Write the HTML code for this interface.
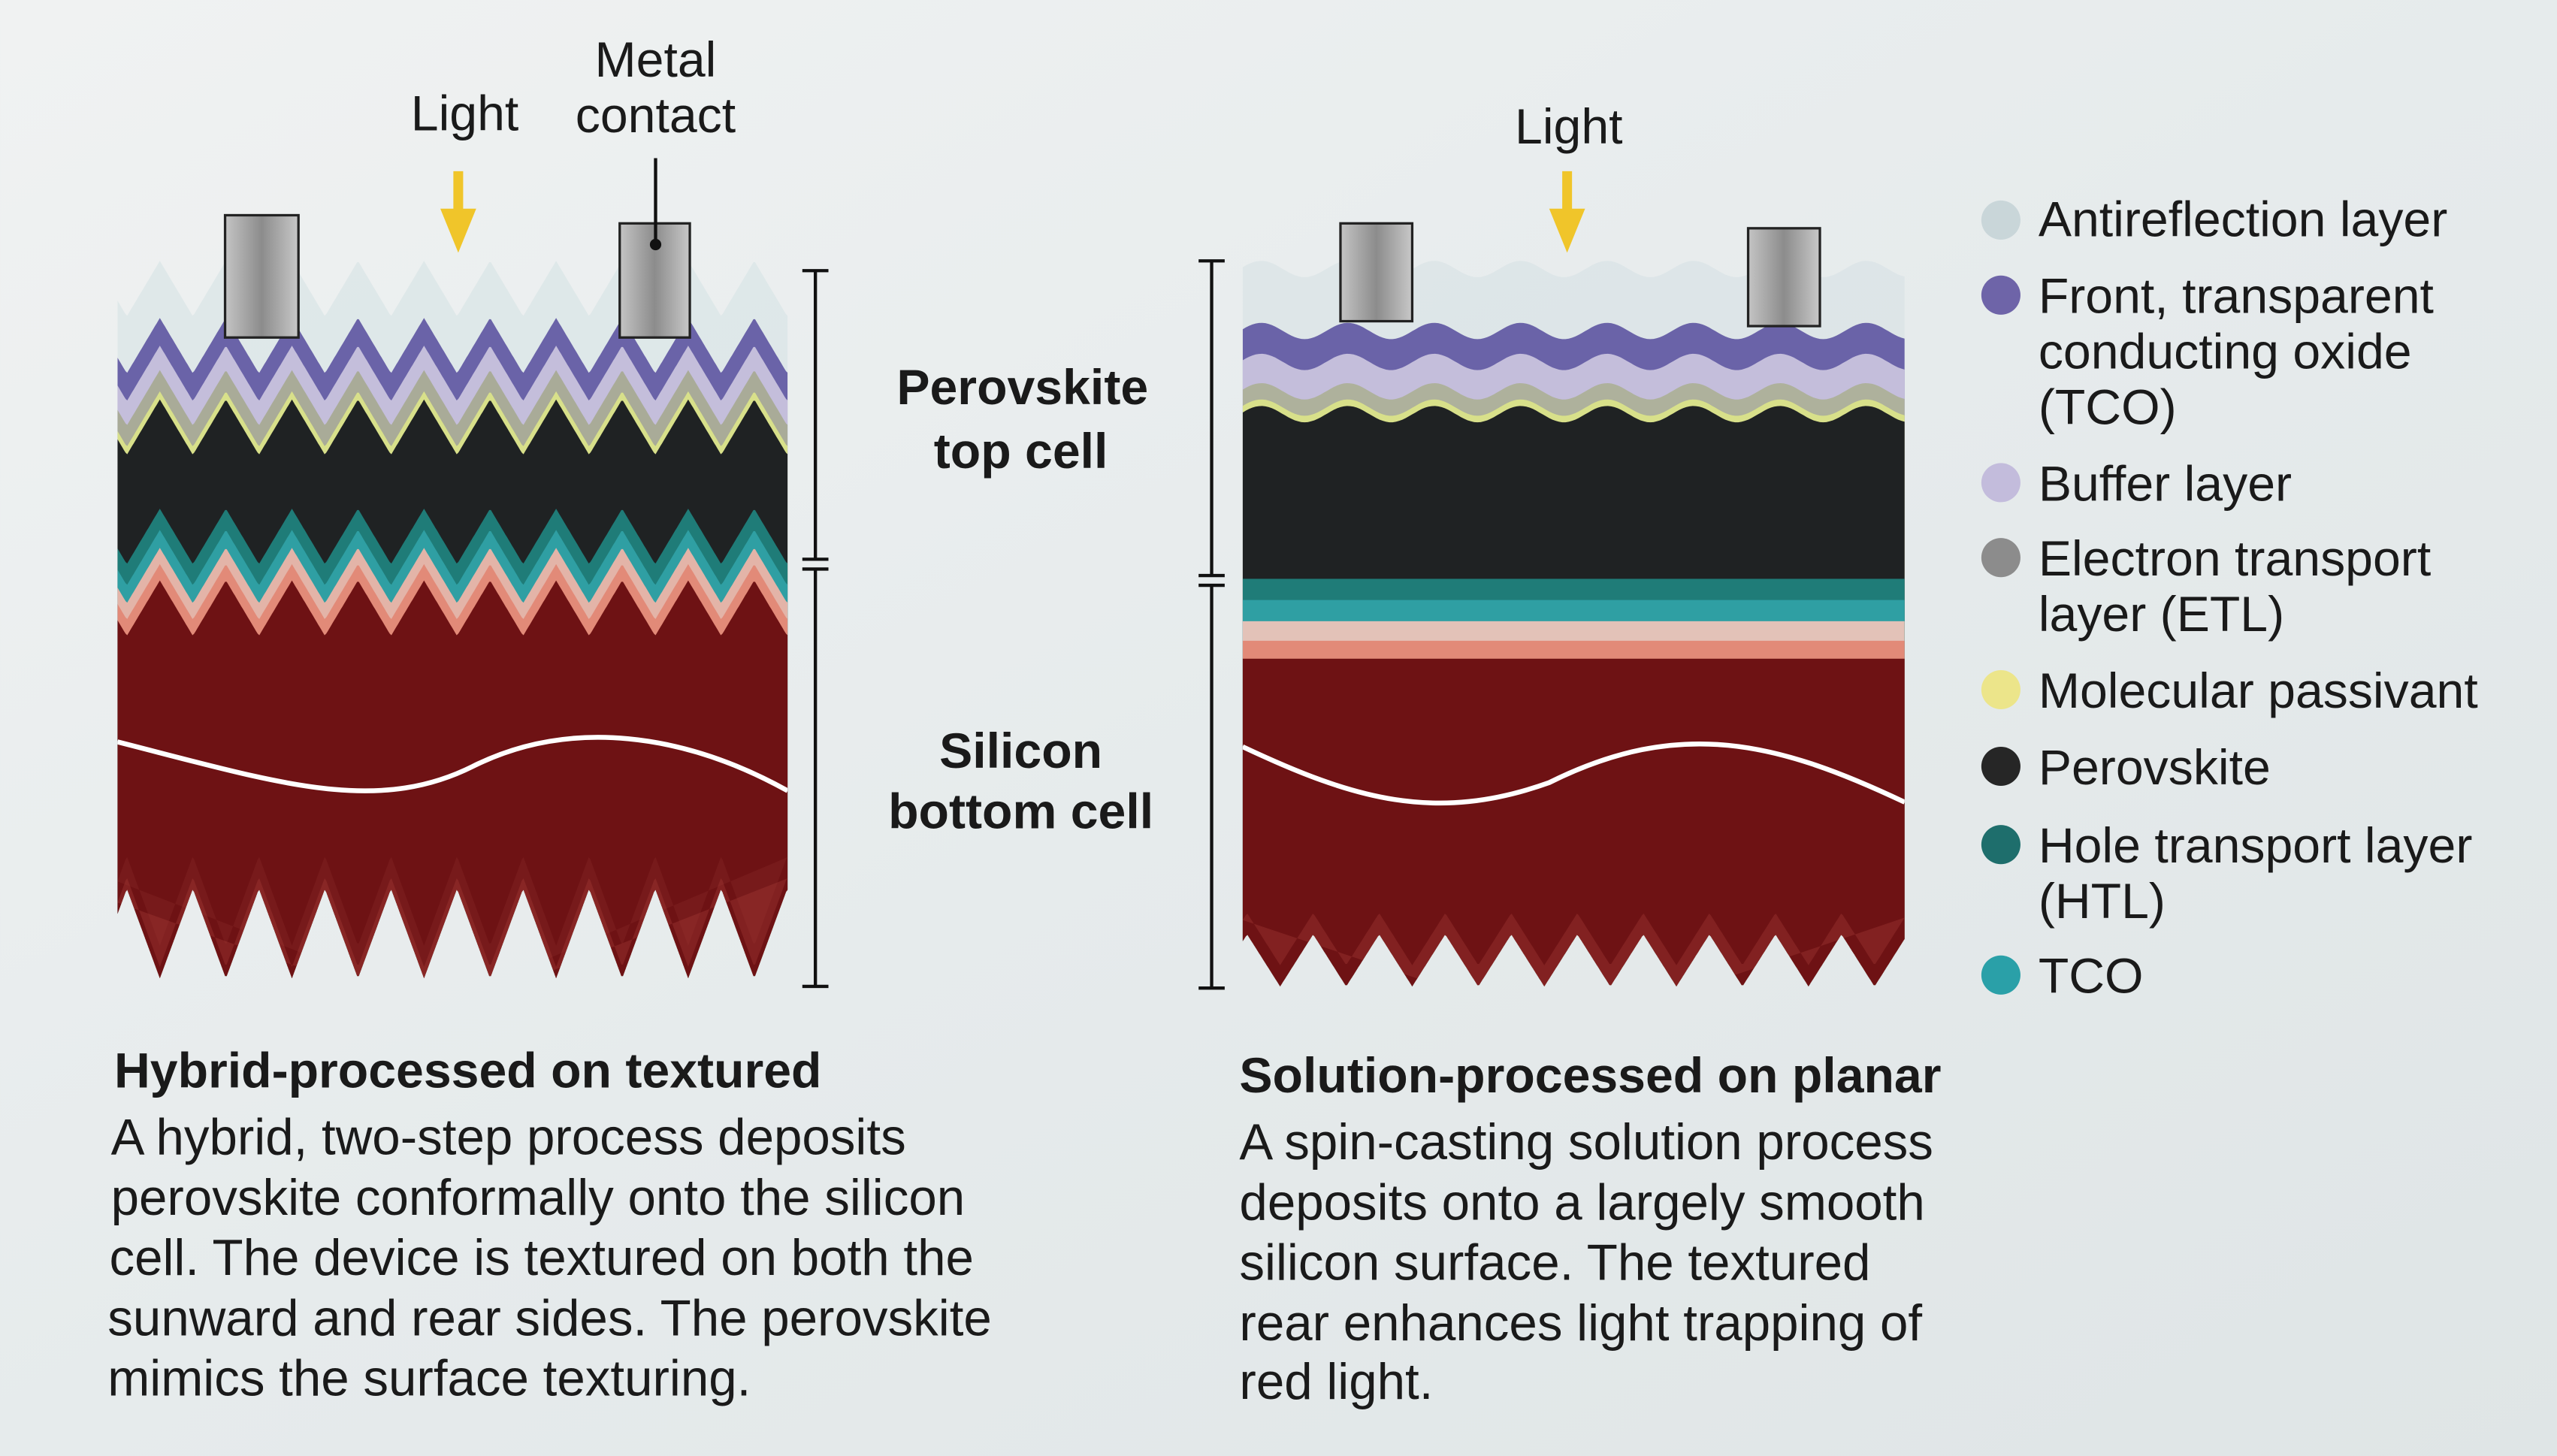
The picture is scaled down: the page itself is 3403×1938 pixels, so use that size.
<!DOCTYPE html>
<html><head><meta charset="utf-8">
<style>
html,body{margin:0;padding:0;width:3403px;height:1938px;overflow:hidden;background:#e6ebec;}
svg{display:block}
text{font-family:"Liberation Sans",Arial,sans-serif;fill:#1a1a1a}
</style></head>
<body>
<svg id="s" width="3403" height="1938" viewBox="0 0 1568 893" xmlns="http://www.w3.org/2000/svg">
<defs>
<linearGradient id="bg" x1="0" y1="0" x2="1" y2="1">
<stop offset="0" stop-color="#f0f2f2"/><stop offset="0.5" stop-color="#e6ebec"/><stop offset="1" stop-color="#dfe5e6"/></linearGradient>
<linearGradient id="metal" x1="0" x2="1">
<stop offset="0" stop-color="#c4c4c4"/><stop offset="0.5" stop-color="#8c8c8c"/><stop offset="1" stop-color="#c8c8c8"/></linearGradient>
<clipPath id="clipL"><path id="cl"/></clipPath>
<clipPath id="clipR"><path id="cr"/></clipPath>
</defs>
<rect width="1568" height="893" fill="url(#bg)"/>
<g id="L"></g>
<g id="R"></g>
<rect x="138" y="132" width="45" height="75" fill="url(#metal)" stroke="#222" stroke-width="1.5"/>
<rect x="380" y="137" width="43" height="70" fill="url(#metal)" stroke="#222" stroke-width="1.5"/>
<rect x="822" y="137" width="44" height="60" fill="url(#metal)" stroke="#222" stroke-width="1.5"/>
<rect x="1072" y="140" width="44" height="60" fill="url(#metal)" stroke="#222" stroke-width="1.5"/>
<line x1="402" y1="97" x2="402" y2="150" stroke="#111" stroke-width="2"/>
<circle cx="402" cy="150" r="3.5" fill="#111"/>
<path d="M278,105 h6 v23 h8 l-11,27 l-11,-27 h8z" fill="#f0c52a"/>
<path d="M958,105 h6 v23 h8 l-11,27 l-11,-27 h8z" fill="#f0c52a"/>
<text x="285" y="80" font-size="30.5" text-anchor="middle">Light</text>
<text x="402" y="47" font-size="30.5" text-anchor="middle">Metal</text>
<text x="402" y="81" font-size="30.5" text-anchor="middle">contact</text>
<text x="962" y="88" font-size="30.5" text-anchor="middle">Light</text>
<g stroke="#111" stroke-width="2" fill="none">
<path d="M492,166 h16 M500,166 V343 M492,343 h16 M492,349 h16 M500,349 V605 M492,605 h16"/>
<path d="M735,160 h16 M743,160 V353 M735,353 h16 M735,359 h16 M743,359 V606 M735,606 h16"/>
</g>
<text x="627" y="248" font-size="30.5" font-weight="bold" text-anchor="middle">Perovskite</text>
<text x="626" y="287" font-size="30.5" font-weight="bold" text-anchor="middle">top cell</text>
<text x="626" y="471" font-size="30.5" font-weight="bold" text-anchor="middle">Silicon</text>
<text x="626" y="508" font-size="30.5" font-weight="bold" text-anchor="middle">bottom cell</text>
<g font-size="30.5">
<circle cx="1227" cy="135" r="12" fill="#c9d6d9"/><text x="1250" y="145">Antireflection layer</text>
<circle cx="1227" cy="181" r="12" fill="#6e64a8"/><text x="1250" y="192">Front, transparent</text><text x="1250" y="226">conducting oxide</text><text x="1250" y="260">(TCO)</text>
<circle cx="1227" cy="296" r="12" fill="#c3bcdc"/><text x="1250" y="307">Buffer layer</text>
<circle cx="1227" cy="342" r="12" fill="#8c8c8c"/><text x="1250" y="353">Electron transport</text><text x="1250" y="387">layer (ETL)</text>
<circle cx="1227" cy="423" r="12" fill="#ece58a"/><text x="1250" y="434">Molecular passivant</text>
<circle cx="1227" cy="470" r="12" fill="#262626"/><text x="1250" y="481">Perovskite</text>
<circle cx="1227" cy="518" r="12" fill="#1e6e6c"/><text x="1250" y="529">Hole transport layer</text><text x="1250" y="563">(HTL)</text>
<circle cx="1227" cy="598" r="12" fill="#2aa0a8"/><text x="1250" y="609">TCO</text>
</g>
<text x="70" y="667" font-size="30.5" font-weight="bold">Hybrid-processed on textured</text>
<g font-size="31">
<text x="68" y="708">A hybrid, two-step process deposits</text>
<text x="68" y="745">perovskite conformally onto the silicon</text>
<text x="67" y="782">cell. The device is textured on both the</text>
<text x="66" y="819">sunward and rear sides. The perovskite</text>
<text x="66" y="856">mimics the surface texturing.</text>
</g>
<text x="760" y="670" font-size="30.5" font-weight="bold">Solution-processed on planar</text>
<g font-size="31">
<text x="760" y="711">A spin-casting solution process</text>
<text x="760" y="748">deposits onto a largely smooth</text>
<text x="760" y="785">silicon surface. The textured</text>
<text x="760" y="822">rear enhances light trapping of</text>
<text x="760" y="858">red light.</text>
</g>
</svg>
<script>
var NS="http://www.w3.org/2000/svg";
function el(p,tag,a){var e=document.createElementNS(NS,tag);for(var k in a)e.setAttribute(k,a[k]);p.appendChild(e);return e;}
var x0=72,x1=483,per=40.5,amp=34,ph=98;
function zig(y){var pts=[];for(var x=x0;x<=x1+0.1;x+=1){var t=((x-ph)%per+per)%per/per;var d=t<0.5?t*2:2-t*2;pts.push(x.toFixed(1)+","+(y+d*amp).toFixed(1));}return pts;}
function botZig(yb){var pts=[];for(var x=x1;x>=x0-0.1;x-=1){var t=((x-ph)%per+per)%per/per;var d=t<0.5?t*2:2-t*2;pts.push(x.toFixed(1)+","+(yb+(1-d)*55).toFixed(1));}return pts;}
var L=document.getElementById("L");
var bz=botZig(545);
document.getElementById("cl").setAttribute("d","M"+zig(150).join(" L")+" L"+bz.join(" L")+"Z");
var g=el(L,"g",{"clip-path":"url(#clipL)"});
el(g,"path",{d:"M"+zig(160).join(" L")+" L"+x1+",700 L"+x0+",700Z",fill:"#d6e2e4",opacity:"0.6"});
var layers=[[195,"#6a63a8"],[212,"#c4bedb"],[227,"#a9ab98"],[240,"#d8e08a"],[245,"#1f2223"],[312,"#1f7c78"],[325,"#2f9fa3"],[336,"#e3b4a8"],[346,"#e28a78"],[356,"#6e1214"]];
layers.forEach(function(l){el(g,"path",{d:"M"+zig(l[0]).join(" L")+" L"+x1+",700 L"+x0+",700Z",fill:l[1]});});
el(g,"path",{d:"M"+botZig(525).reverse().join(" L")+" L"+x0+",700 L"+x1+",700Z",fill:"#8a2a28",opacity:"0.35"});
el(g,"path",{d:"M"+botZig(538).reverse().join(" L")+" L"+x0+",700 L"+x1+",700Z",fill:"#a8403a",opacity:"0.35"});
el(g,"path",{d:"M72,455 C170,480 230,500 290,470 C350,440 420,450 483,485",stroke:"#fff","stroke-width":"3",fill:"none"});
var rx0=762,rx1=1168,wp=53,wa=5;
function wave(y){var p=[];for(var x=rx0;x<=rx1+0.1;x+=2){p.push(x+","+(y+wa*Math.cos((x-800)/wp*2*Math.PI)).toFixed(1));}return p;}
var R=document.getElementById("R");
function rbz(yb){var p=[];for(var x=rx1;x>=rx0-0.1;x-=1){var t=((x-785)%40.5+40.5)%40.5/40.5;var d=t<0.5?t*2:2-t*2;p.push(x+","+(yb+(1-d)*32).toFixed(1));}return p;}
document.getElementById("cr").setAttribute("d","M"+wave(150).join(" L")+" L"+rbz(573).join(" L")+"Z");
var g2=el(R,"g",{"clip-path":"url(#clipR)"});
el(g2,"path",{d:"M"+wave(165).join(" L")+" L"+rx1+",700 L"+rx0+",700Z",fill:"#d8e3e6",opacity:"0.7"});
var rl=[[203,"#6a63a8"],[222,"#c4bedb"],[240,"#aeb19c"],[250,"#d8e08a"],[254,"#1f2223"]];
rl.forEach(function(l){el(g2,"path",{d:"M"+wave(l[0]).join(" L")+" L"+rx1+",700 L"+rx0+",700Z",fill:l[1]});});
var fl=[[355,"#1f7c78"],[368,"#2f9fa3"],[381,"#e3c2b8"],[393,"#e28a78"],[404,"#6e1214"]];
fl.forEach(function(l){el(g2,"rect",{x:rx0,y:l[0],width:rx1-rx0,height:300,fill:l[1]});});
el(g2,"path",{d:"M"+rbz(560).reverse().join(" L")+" L"+rx0+",700 L"+rx1+",700Z",fill:"#a8403a",opacity:"0.35"});
el(g2,"path",{d:"M762,458 C830,490 880,505 950,480 C1030,440 1090,455 1168,492",stroke:"#fff","stroke-width":"3",fill:"none"});
</script>
</body></html>
